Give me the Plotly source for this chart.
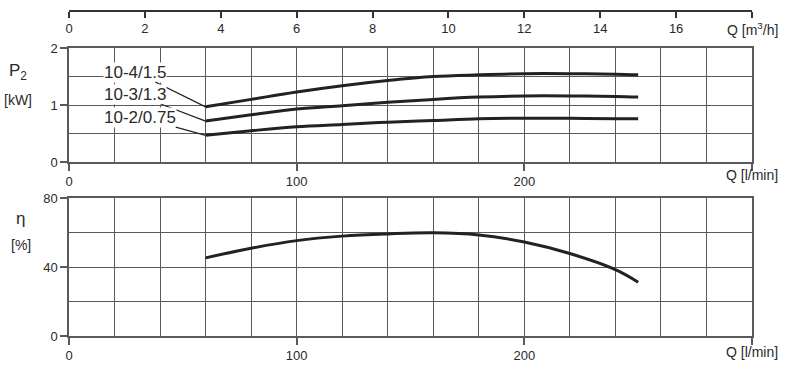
import plotly.graph_objects as go

# ---- data ----
q_lpm = [60, 80, 100, 120, 140, 160, 180, 200, 220, 240, 250]
p2_10_4 = [0.97, 1.10, 1.23, 1.34, 1.43, 1.50, 1.53, 1.55, 1.55, 1.54, 1.53]
p2_10_3 = [0.72, 0.83, 0.93, 0.99, 1.05, 1.10, 1.14, 1.16, 1.16, 1.15, 1.14]
p2_10_2 = [0.47, 0.55, 0.62, 0.66, 0.70, 0.73, 0.76, 0.77, 0.77, 0.76, 0.76]
eta = [45.3, 50.9, 55.3, 57.9, 59.2, 59.8, 58.6, 54.5, 47.8, 38.5, 31.2]
series_names = ["10-4/1.5", "10-3/1.3", "10-2/0.75"]
label_pos = [(29, 1.58), (29, 1.19), (31, 0.79)]  # label centres (l/min, kW)

m3h_ticks = [0, 2, 4, 6, 8, 10, 12, 14, 16, 18]
m3h_text = ["0", "2", "4", "6", "8", "10", "12", "14", "16", ""]
lpm_ticks = [0, 100, 200, 300]
lpm_text = ["0", "100", "200", ""]

FONT = "Liberation Sans, Arial, sans-serif"
GRID = "#5a5a5a"
TXT = "#2a2a2a"
CURVE = "#222222"

fig = go.Figure()
for ys in (p2_10_4, p2_10_3, p2_10_2):
    fig.add_trace(go.Scatter(x=q_lpm, y=ys, mode="lines", xaxis="x", yaxis="y",
                             line=dict(color=CURVE, width=3, shape="spline", smoothing=1.0),
                             showlegend=False, hoverinfo="skip"))
fig.add_trace(go.Scatter(x=q_lpm, y=eta, mode="lines", xaxis="x2", yaxis="y2",
                         line=dict(color=CURVE, width=3, shape="spline", smoothing=1.1),
                         showlegend=False, hoverinfo="skip"))
# dummy trace so the m3/h axis is displayed
fig.add_trace(go.Scatter(x=[0, 18], y=[None, None], xaxis="x3", yaxis="y",
                         mode="lines", showlegend=False, hoverinfo="skip"))

def xax(anchor):
    return dict(range=[0, 300], tickvals=lpm_ticks, ticktext=lpm_text, ticks="outside",
                ticklen=7, tickcolor=GRID, tickwidth=1.5, showgrid=True, gridcolor=GRID, gridwidth=1.3,
                minor=dict(dtick=20, tick0=0, showgrid=True, gridcolor=GRID, gridwidth=1.3, ticks=""),
                showline=True, linecolor=GRID, linewidth=1.5, mirror=True, zeroline=False,
                anchor=anchor, automargin=False,
                tickfont=dict(size=13, color=TXT, family=FONT), fixedrange=True)

def yax(domain, rng, tv, minor_dt, anchor):
    return dict(domain=domain, range=rng, tickvals=tv, ticks="outside", ticklen=7,
                tickcolor=GRID, tickwidth=1.5, showgrid=True, gridcolor=GRID, gridwidth=1.3,
                minor=dict(dtick=minor_dt, tick0=0, showgrid=True, gridcolor=GRID, gridwidth=1.3, ticks=""),
                showline=True, linecolor=GRID, linewidth=1.5, mirror=True, zeroline=False,
                anchor=anchor, automargin=False,
                tickfont=dict(size=13, color=TXT, family=FONT), fixedrange=True)

fig.update_layout(
    width=794, height=369, margin=dict(l=69, r=42, t=11, b=33, autoexpand=False),
    paper_bgcolor="white", plot_bgcolor="white", font=dict(family=FONT, color=TXT),
    xaxis=dict(domain=[0, 1], **xax("y")),
    xaxis2=dict(domain=[0, 1], **xax("y2")),
    yaxis=yax([0.535, 0.886], [0, 2], [0, 1, 2], 0.5, "x"),
    yaxis2=yax([0, 0.4246], [0, 80], [0, 40, 80], 20, "x2"),
    xaxis3=dict(range=[0, 18], overlaying="x", side="bottom", anchor="free", position=1,
                tickvals=m3h_ticks, ticktext=m3h_text, ticks="outside", ticklen=6,
                tickcolor="#333", tickwidth=1.5, automargin=False,
                showline=True, linecolor="#333", linewidth=1.5, showgrid=False, zeroline=False,
                tickfont=dict(size=13, color=TXT, family=FONT), fixedrange=True),
)

ann = []
curves = [p2_10_4, p2_10_3, p2_10_2]
for name, ys, (lx, ly) in zip(series_names, curves, label_pos):
    ann.append(dict(x=q_lpm[0], y=ys[0], xref="x", yref="y", ax=lx, ay=ly, axref="x", ayref="y",
                    text=name, showarrow=True, arrowhead=0, arrowwidth=1.3, arrowcolor=CURVE,
                    font=dict(size=17, color=TXT, family=FONT), bgcolor="white", borderpad=0,
                    standoff=0, startstandoff=0))
txt = dict(showarrow=False, font=dict(size=14, color=TXT, family=FONT), xref="paper", yref="paper",
           xanchor="center", yanchor="middle")
big = dict(txt, font=dict(size=17, color=TXT, family=FONT))
ann += [
    dict(text="P<sub>2</sub>", x=-0.074, y=0.812, **big),
    dict(text="[kW]", x=-0.074, y=0.726, **txt),
    dict(text="η", x=-0.071, y=0.363, **big),
    dict(text="[%]", x=-0.071, y=0.28, **txt),
    dict(text="Q [l/min]", x=1.0, y=0.495, **txt),
    dict(text="Q [l/min]", x=1.0, y=-0.05, **txt),
    dict(text="Q [m<sup>3</sup>/h]", x=1.0, y=0.945, **txt),
]
fig.update_layout(annotations=ann)
fig.write_html("out.html", config={"displayModeBar": False},
               post_script="document.body.style.margin='0';document.body.style.padding='0';")
